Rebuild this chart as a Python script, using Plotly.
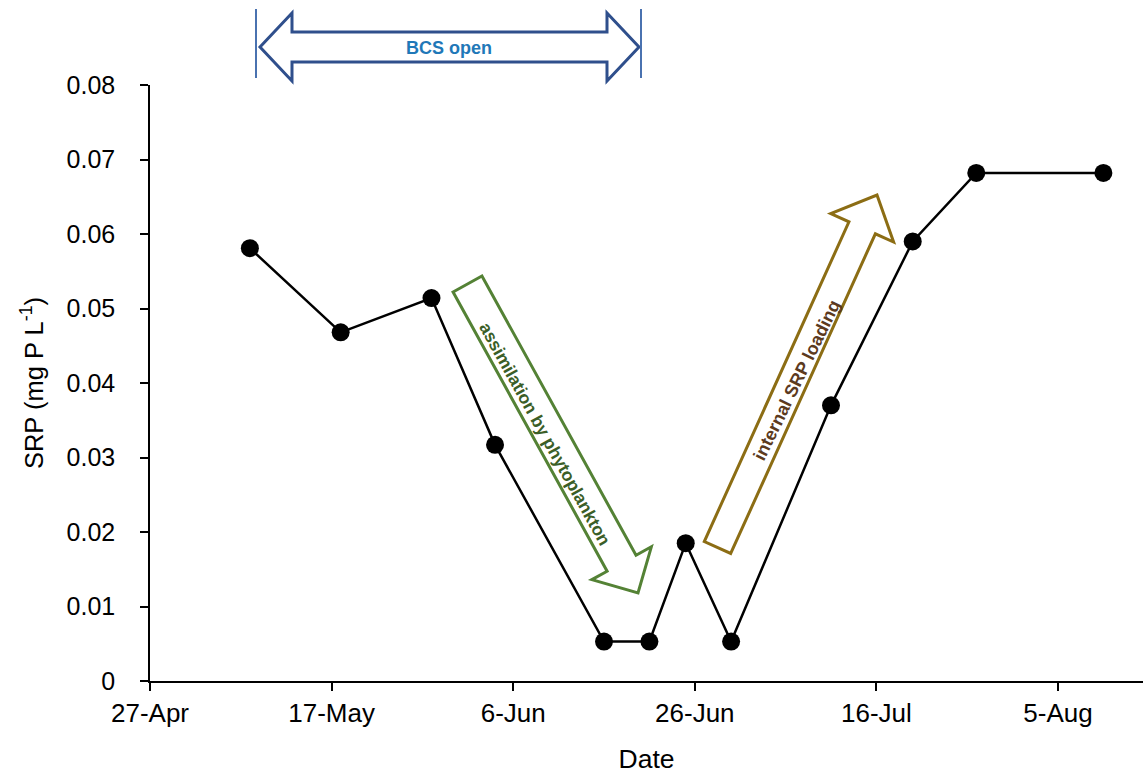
import math
import plotly.graph_objects as go

# Sampling dates and soluble reactive phosphorus concentrations
dates = ["2015-05-08", "2015-05-18", "2015-05-28", "2015-06-04", "2015-06-16",
         "2015-06-21", "2015-06-25", "2015-06-30", "2015-07-11", "2015-07-20",
         "2015-07-27", "2015-08-10"]
srp = [0.0581, 0.0468, 0.0514, 0.0317, 0.0053, 0.0053, 0.0185, 0.0053,
       0.0370, 0.0590, 0.0682, 0.0682]

tick_dates = ["2015-04-27", "2015-05-17", "2015-06-06", "2015-06-26",
              "2015-07-16", "2015-08-05"]
tick_labels = ["27-Apr", "17-May", "6-Jun", "26-Jun", "16-Jul", "5-Aug"]
y_ticks = [0, 0.01, 0.02, 0.03, 0.04, 0.05, 0.06, 0.07, 0.08]
y_labels = ["0", "0.01", "0.02", "0.03", "0.04", "0.05", "0.06", "0.07", "0.08"]

W, H = 1143, 776
ML, MR, MT, MB = 150, 0, 85, 95
PW, PH = W - ML - MR, H - MT - MB

FONT = "Liberation Sans, Arial, sans-serif"


def to_paper(px, py):
    return (px - ML) / PW, (H - MB - py) / PH


def path_from_pixels(points):
    parts = []
    for i, (px, py) in enumerate(points):
        x, y = to_paper(px, py)
        parts.append(("M" if i == 0 else "L") + f"{x:.5f},{y:.5f}")
    return " ".join(parts) + " Z"


def block_arrow(start, tip, shaft_w, head_w, head_len):
    sx, sy = start
    tx, ty = tip
    L = math.hypot(tx - sx, ty - sy)
    ux, uy = (tx - sx) / L, (ty - sy) / L
    nx, ny = -uy, ux
    bx, by = tx - ux * head_len, ty - uy * head_len
    hs, hh = shaft_w / 2, head_w / 2
    return [
        (sx + nx * hs, sy + ny * hs),
        (bx + nx * hs, by + ny * hs),
        (bx + nx * hh, by + ny * hh),
        (tx, ty),
        (bx - nx * hh, by - ny * hh),
        (bx - nx * hs, by - ny * hs),
        (sx - nx * hs, sy - ny * hs),
    ]


def double_arrow(left, right, shaft_w, head_w, head_len):
    lx, cy = left
    rx, _ = right
    hs, hh = shaft_w / 2, head_w / 2
    return [
        (lx, cy),
        (lx + head_len, cy - hh),
        (lx + head_len, cy - hs),
        (rx - head_len, cy - hs),
        (rx - head_len, cy - hh),
        (rx, cy),
        (rx - head_len, cy + hh),
        (rx - head_len, cy + hs),
        (lx + head_len, cy + hs),
        (lx + head_len, cy + hh),
    ]


fig = go.Figure()
fig.add_trace(go.Scatter(
    x=dates, y=srp, mode="lines+markers",
    line=dict(color="black", width=2.5),
    marker=dict(color="black", size=18),
    showlegend=False, cliponaxis=False,
))

shapes = []
# BCS open period marker
shapes.append(dict(type="path", xref="paper", yref="paper",
                   path=path_from_pixels(double_arrow((260, 47), (639, 47), 30, 68, 32)),
                   line=dict(color="#2f4f8c", width=3), fillcolor="rgba(0,0,0,0)"))
for vx in (256, 641):
    x0, y0 = to_paper(vx, 9)
    _, y1 = to_paper(vx, 78)
    shapes.append(dict(type="line", xref="paper", yref="paper", x0=x0, x1=x0, y0=y0, y1=y1,
                       line=dict(color="#4a72b0", width=2)))
# Phytoplankton assimilation arrow
shapes.append(dict(type="path", xref="paper", yref="paper",
                   path=path_from_pixels(block_arrow((467.5, 284), (638, 593), 33, 68, 34)),
                   line=dict(color="#548235", width=3), fillcolor="rgba(0,0,0,0)"))
# Internal loading arrow
shapes.append(dict(type="path", xref="paper", yref="paper",
                   path=path_from_pixels(block_arrow((717.5, 547.5), (877, 195), 29, 69, 36)),
                   line=dict(color="#8c6d14", width=3), fillcolor="rgba(0,0,0,0)"))

annotations = []
bx, by = to_paper(449, 48)
annotations.append(dict(xref="paper", yref="paper", x=bx, y=by, text="<b>BCS open</b>",
                        xanchor="center", yanchor="middle",
                        showarrow=False, font=dict(family=FONT, size=18, color="#1f78b8")))
gx, gy = to_paper(545, 434)
annotations.append(dict(xref="paper", yref="paper", x=gx, y=gy,
                        text="<b>assimilation by phytoplankton</b>", textangle=61,
                        xanchor="center", yanchor="middle",
                        showarrow=False, font=dict(family=FONT, size=17.5, color="#3b5e27")))
rx, ry = to_paper(797, 380)
annotations.append(dict(xref="paper", yref="paper", x=rx, y=ry,
                        text="<b>internal SRP loading</b>", textangle=-64,
                        xanchor="center", yanchor="middle",
                        showarrow=False, font=dict(family=FONT, size=18, color="#5c3a1e")))

fig.update_layout(
    width=W, height=H,
    margin=dict(l=ML, r=MR, t=MT, b=MB, pad=0),
    paper_bgcolor="white", plot_bgcolor="white",
    font=dict(family=FONT, size=25, color="black"),
    shapes=shapes, annotations=annotations,
    xaxis=dict(
        type="date", range=["2015-04-27", "2015-08-14 08:40"],
        tickvals=tick_dates, ticktext=tick_labels,
        showgrid=False, zeroline=False,
        showline=True, linecolor="black", linewidth=1.5,
        ticks="outside", ticklen=8, tickcolor="black", tickwidth=1.5,
        tickfont=dict(size=26),
        title=dict(text="Date", font=dict(size=26.5), standoff=22),
    ),
    yaxis=dict(
        range=[0, 0.08], tickvals=y_ticks, ticktext=y_labels,
        showgrid=False, zeroline=False,
        showline=True, linecolor="black", linewidth=1.5,
        ticks="outside", ticklen=8, tickcolor="black", tickwidth=1.5,
        tickfont=dict(size=25), ticklabelstandoff=20,
        title=dict(text="SRP (mg P L<sup>-1</sup>)", font=dict(size=25.5), standoff=16),
    ),
)

fig.write_html("out.html")
